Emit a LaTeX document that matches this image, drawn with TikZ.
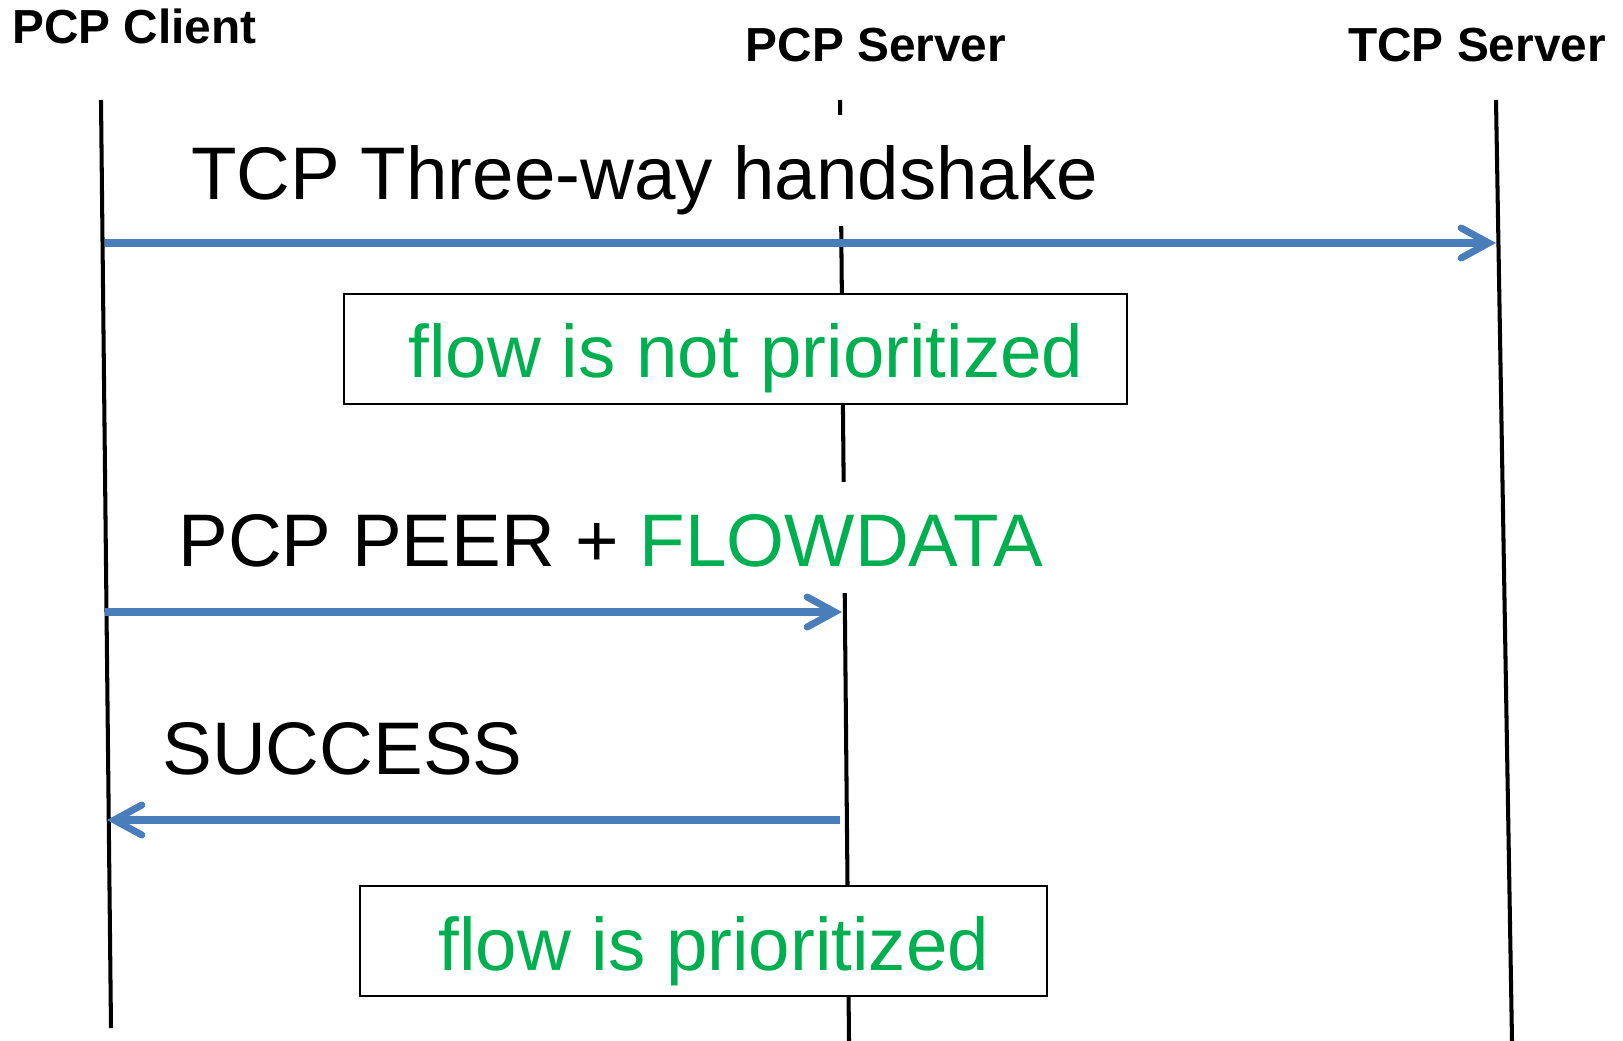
\documentclass[tikz,border=0pt]{standalone}
\usepackage{fontspec}
\setmainfont{Liberation Sans}
\usetikzlibrary{arrows.meta}
\definecolor{msgblue}{HTML}{4A7EBB}
\definecolor{flowgreen}{HTML}{00B050}

\tikzset{
    header/.style={font=\fontsize{27.2pt}{30pt}\selectfont\bfseries, inner sep=0pt},
    msgtext/.style={font=\fontsize{42.4pt}{48pt}\selectfont, inner sep=0pt, anchor=base west},
    cover/.style={fill=white, text height=1.68cm, text depth=0.54cm},
    flowbox/.style={msgtext, anchor=center, draw, line width=1.2pt, fill=white, text=flowgreen,
        minimum height=2.2cm, text height=1.4cm, text depth=0.24cm},
    lifeline/.style={line width=2.3pt},
    message/.style={msgblue, line width=4pt, -{Straight Barb[length=0.55cm, width=0.6cm, line cap=round]}}
}

\begin{document}
\begin{tikzpicture}[x=0.02cm, y=-0.02cm]
    \useasboundingbox (0,0) rectangle (1623,1041);

    \node [header, anchor=base west] (client) at (12,43) {PCP Client};
    \node [header, anchor=base] (pcpServer) at (876,61) {PCP Server};
    \node [header, anchor=base] (tcpServer) at (1477,61) {TCP Server};

    \coordinate (clientTop) at (101,100);
    \coordinate (clientBot) at (111,1028);
    \coordinate (pcpTop) at (840,100);
    \coordinate (pcpBot) at (849,1041);
    \coordinate (tcpTop) at (1496,100);
    \coordinate (tcpBot) at (1512,1041);
    \draw [lifeline] (clientTop) -- (clientBot);
    \draw [lifeline] (pcpTop) -- (pcpBot);
    \draw [lifeline] (tcpTop) -- (tcpBot);

    \node [msgtext, cover] (handshake) at (191,199) {TCP Three-way handshake};
    \node [flowbox, minimum width=15.66cm] (notPrio) at (735.5,349) {\ flow is not prioritized};
    \node [msgtext, cover] (peer) at (178,566) {PCP PEER + \textcolor{flowgreen}{FLOWDATA}};
    \node [msgtext] (success) at (162,774) {SUCCESS};
    \node [flowbox, minimum width=13.74cm] (prio) at (703.5,941) {\ flow is prioritized};

    \coordinate (synFrom) at (105,243);
    \coordinate (synTo) at (1496,243);
    \coordinate (peerFrom) at (105,612);
    \coordinate (peerTo) at (842,612);
    \coordinate (okFrom) at (840,820);
    \coordinate (okTo) at (107,820);
    \draw [message] (synFrom) -- (synTo);
    \draw [message] (peerFrom) -- (peerTo);
    \draw [message] (okFrom) -- (okTo);
\end{tikzpicture}
\end{document}
